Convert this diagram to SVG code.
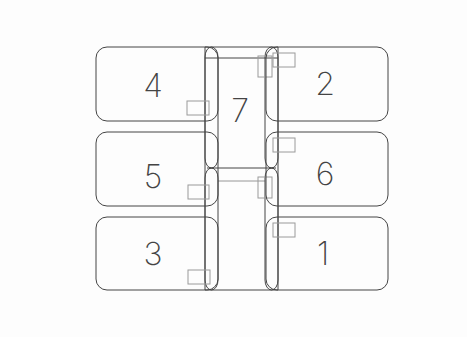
<svg xmlns="http://www.w3.org/2000/svg" width="467" height="337" viewBox="0 0 467 337">
<style>
.box{fill:none;stroke:#444;stroke-width:1}
.ln{fill:none;stroke:#444;stroke-width:1}
.lt{fill:none;stroke:#8a8a8a;stroke-width:0.9}
.sm{fill:none;stroke:#9a9a9a;stroke-width:1}
.lbl{font-family:"Inter","DejaVu Sans",sans-serif;font-weight:200;font-size:32px;fill:#444;text-anchor:middle}
</style>
<rect width="467" height="337" fill="#fdfdfd"/>
<g id="connectors">
<line class="ln" x1="205" y1="47" x2="205" y2="290"/>
<line class="ln" x1="278" y1="47" x2="278" y2="290"/>
<line class="ln" x1="205" y1="47" x2="278" y2="47"/>
<line class="ln" x1="205" y1="58" x2="278" y2="58"/>
<line class="ln" x1="207" y1="168" x2="276" y2="168"/>
<line class="lt" x1="218" y1="181" x2="265" y2="181"/>
<line class="ln" x1="205" y1="290" x2="278" y2="290"/>
<rect class="ln" x="205" y="47" width="13" height="121" rx="6.5" ry="10"/>
<rect class="ln" x="205" y="168" width="13" height="122" rx="6.5" ry="10"/>
<rect class="ln" x="265" y="47" width="13" height="121" rx="6.5" ry="10"/>
<rect class="ln" x="265" y="168" width="13" height="122" rx="6.5" ry="10"/>
<rect class="sm" x="258" y="56" width="14" height="21"/>
<rect class="sm" x="258" y="177" width="14" height="21"/>
</g>
<g id="node-7">
<text class="lbl" x="240" y="122">7</text>
</g>
<g id="node-4">
<rect class="box" x="96" y="47" width="122" height="74" rx="11"/>
<rect class="sm" x="187" y="101" width="22" height="14"/>
<text class="lbl" x="153" y="97">4</text>
</g>
<g id="node-2">
<rect class="box" x="266" y="47" width="122" height="74" rx="11"/>
<rect class="sm" x="273" y="53" width="22" height="14"/>
<text class="lbl" x="325" y="95">2</text>
</g>
<g id="node-5">
<rect class="box" x="96" y="132" width="122" height="74" rx="11"/>
<rect class="sm" x="188" y="185" width="21" height="14"/>
<text class="lbl" x="153" y="188">5</text>
</g>
<g id="node-6">
<rect class="box" x="266" y="132" width="122" height="74" rx="11"/>
<rect class="sm" x="273" y="138" width="22" height="14"/>
<text class="lbl" x="325" y="185">6</text>
</g>
<g id="node-3">
<rect class="box" x="96" y="217" width="122" height="73" rx="11"/>
<rect class="sm" x="188" y="270" width="22" height="14"/>
<text class="lbl" x="153" y="265">3</text>
</g>
<g id="node-1">
<rect class="box" x="266" y="217" width="122" height="73" rx="11"/>
<rect class="sm" x="273" y="223" width="22" height="14"/>
<text class="lbl" x="323" y="265">1</text>
</g>
</svg>
